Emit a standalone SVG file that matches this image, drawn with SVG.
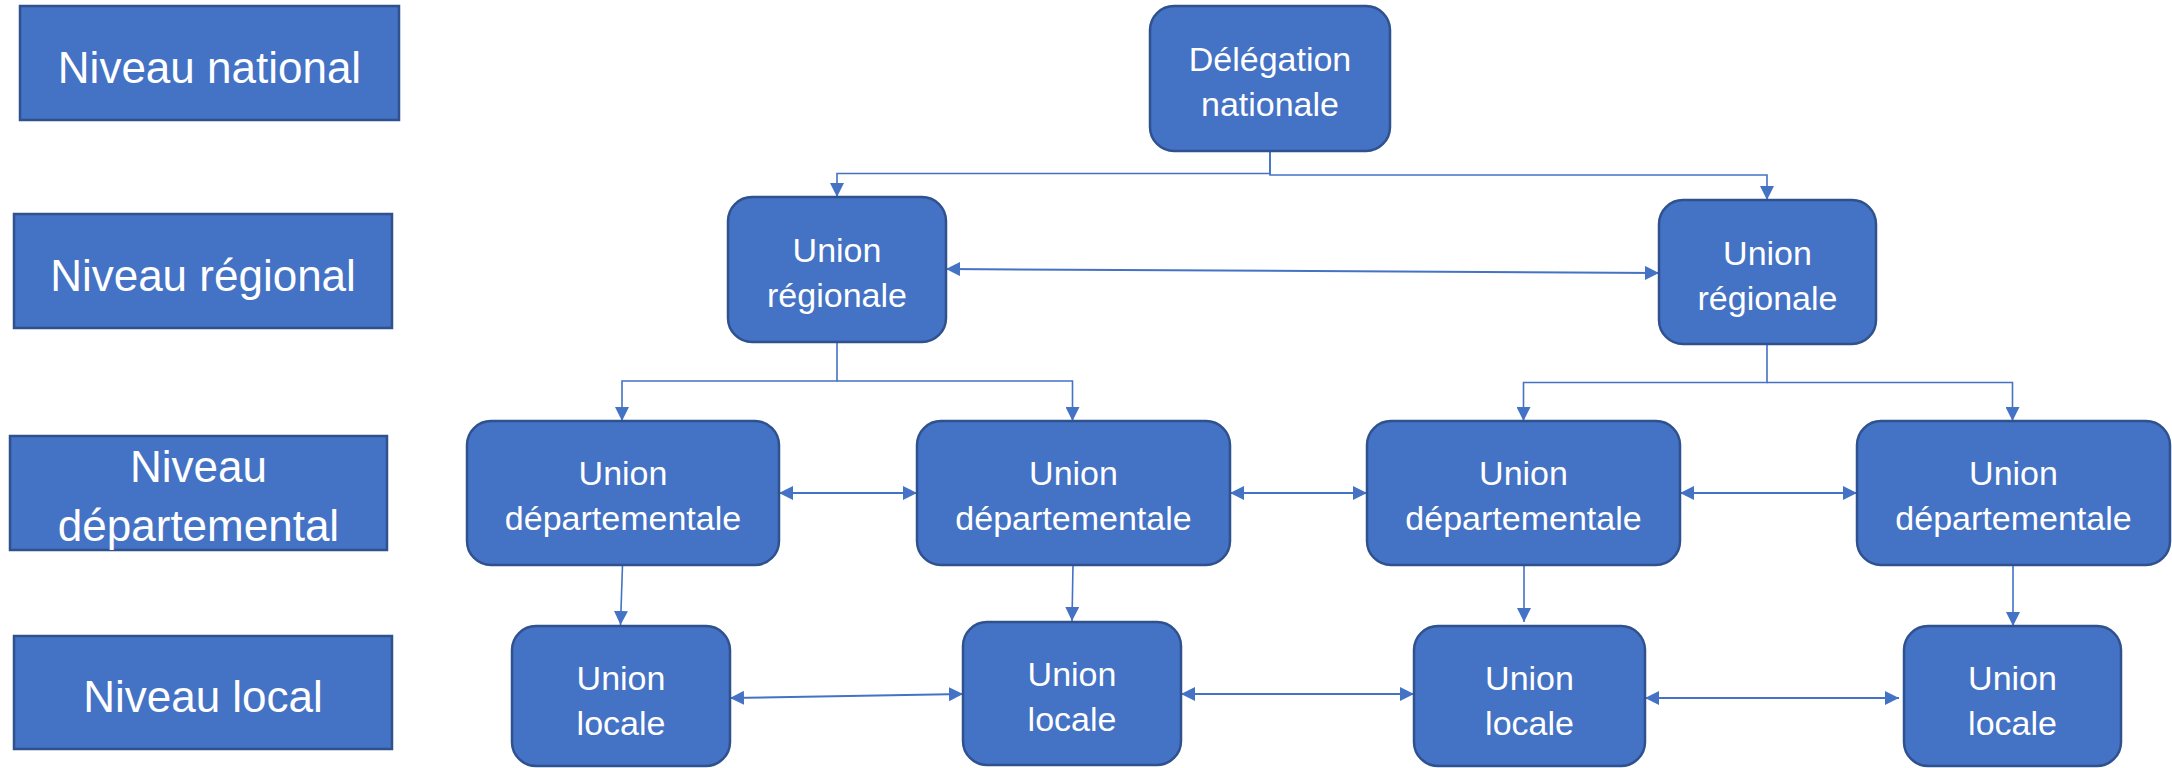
<svg xmlns="http://www.w3.org/2000/svg" width="2172" height="768" viewBox="0 0 2172 768">
<style>
.lvl{fill:#4472C4;stroke:#2F528F;stroke-width:2.5}
.nd{fill:#4472C4;stroke:#2F528F;stroke-width:2.5}
.lt{font-family:"Liberation Sans",Arial,sans-serif;font-size:44px;fill:#FFFFFF;text-anchor:middle}
.nt{font-family:"Liberation Sans",Arial,sans-serif;font-size:34px;fill:#FFFFFF;text-anchor:middle}
.c{fill:none;stroke:#4472C4;stroke-width:1.6}
.c1{marker-end:url(#ah)}
.c2{marker-start:url(#ah);marker-end:url(#ah);stroke-width:2}
</style>
<defs>
<marker id="ah" viewBox="0 0 14 14" refX="14" refY="7" markerWidth="14" markerHeight="14" markerUnits="userSpaceOnUse" orient="auto-start-reverse">
<path d="M0,0 L14,7 L0,14 z" fill="#4472C4"/>
</marker>
</defs>
<rect width="2172" height="768" fill="#FFFFFF"/>

<g id="niveau-national"><rect class="lvl" x="20" y="6" width="379" height="114"/><text class="lt" x="209.5" y="83">Niveau national</text></g>
<g id="niveau-regional"><rect class="lvl" x="14" y="214" width="378" height="114"/><text class="lt" x="203" y="291">Niveau régional</text></g>
<g id="niveau-departemental"><rect class="lvl" x="10" y="436" width="377" height="114"/><text class="lt" x="198.5" y="482">Niveau</text><text class="lt" x="198.5" y="541">départemental</text></g>
<g id="niveau-local"><rect class="lvl" x="14" y="636" width="378" height="113"/><text class="lt" x="203" y="712">Niveau local</text></g>

<g id="connectors">
<path class="c c1" d="M1270,151 V173.5 H837 V197"/>
<path class="c c1" d="M1270,151 V175 H1767 V200"/>
<path class="c c2" d="M946,269 L1659,273"/>
<path class="c c1" d="M837,342 V381 H622 V421"/>
<path class="c c1" d="M837,381 H1072.5 V421"/>
<path class="c c1" d="M1767,344 V382.5 H1523.5 V421"/>
<path class="c c1" d="M1767,382.5 H2012.5 V421"/>
<path class="c c2" d="M779,493 H917"/>
<path class="c c2" d="M1230,493 H1367"/>
<path class="c c2" d="M1680,493 H1857"/>
<path class="c c1" d="M622.5,565 L620.5,625"/>
<path class="c c1" d="M1073,565 L1072,621"/>
<path class="c c1" d="M1524,565 V622"/>
<path class="c c1" d="M2013,565 V626"/>
<path class="c c2" d="M730,698 L963,694"/>
<path class="c c2" d="M1181,694 H1414"/>
<path class="c c2" d="M1645,698 H1899"/>
</g>

<g id="delegation-nationale"><rect class="nd" x="1150" y="6" width="240" height="145" rx="24"/><text class="nt" x="1270" y="71">Délégation</text><text class="nt" x="1270" y="116">nationale</text></g>
<g id="union-regionale-1"><rect class="nd" x="728" y="197" width="218" height="145" rx="24"/><text class="nt" x="837" y="262">Union</text><text class="nt" x="837" y="307">régionale</text></g>
<g id="union-regionale-2"><rect class="nd" x="1659" y="200" width="217" height="144" rx="24"/><text class="nt" x="1767.5" y="265">Union</text><text class="nt" x="1767.5" y="310">régionale</text></g>
<g id="union-departementale-1"><rect class="nd" x="467" y="421" width="312" height="144" rx="24"/><text class="nt" x="623" y="485">Union</text><text class="nt" x="623" y="530">départementale</text></g>
<g id="union-departementale-2"><rect class="nd" x="917" y="421" width="313" height="144" rx="24"/><text class="nt" x="1073.5" y="485">Union</text><text class="nt" x="1073.5" y="530">départementale</text></g>
<g id="union-departementale-3"><rect class="nd" x="1367" y="421" width="313" height="144" rx="24"/><text class="nt" x="1523.5" y="485">Union</text><text class="nt" x="1523.5" y="530">départementale</text></g>
<g id="union-departementale-4"><rect class="nd" x="1857" y="421" width="313" height="144" rx="24"/><text class="nt" x="2013.5" y="485">Union</text><text class="nt" x="2013.5" y="530">départementale</text></g>
<g id="union-locale-1"><rect class="nd" x="512" y="626" width="218" height="140" rx="24"/><text class="nt" x="621" y="690">Union</text><text class="nt" x="621" y="735">locale</text></g>
<g id="union-locale-2"><rect class="nd" x="963" y="622" width="218" height="143" rx="24"/><text class="nt" x="1072" y="686">Union</text><text class="nt" x="1072" y="731">locale</text></g>
<g id="union-locale-3"><rect class="nd" x="1414" y="626" width="231" height="140" rx="24"/><text class="nt" x="1529.5" y="690">Union</text><text class="nt" x="1529.5" y="735">locale</text></g>
<g id="union-locale-4"><rect class="nd" x="1904" y="626" width="217" height="140" rx="24"/><text class="nt" x="2012.5" y="690">Union</text><text class="nt" x="2012.5" y="735">locale</text></g>
</svg>
